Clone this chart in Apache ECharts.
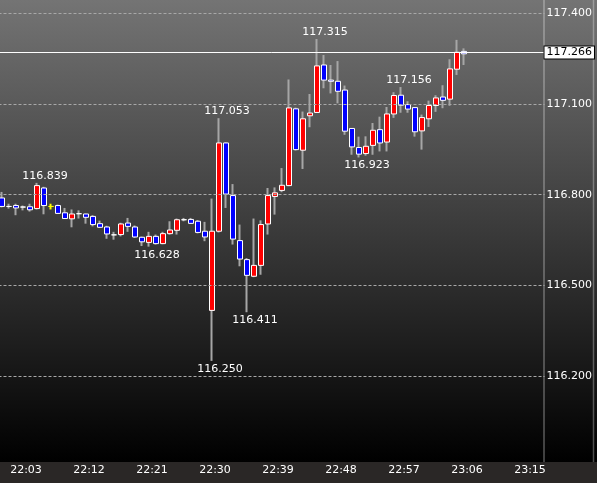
<!DOCTYPE html>
<html><head><meta charset="utf-8">
<script src="https://cdn.jsdelivr.net/npm/echarts@6/dist/echarts.min.js"></script>
<style>html,body{margin:0;padding:0;background:#000}#c{width:597px;height:483px}</style>
</head><body><div id="c"></div>
<script>
// Category labels (one per minute)
const times = ['22:00','22:01','22:02','22:03','22:04','22:05','22:06','22:07','22:08','22:09',
'22:10','22:11','22:12','22:13','22:14','22:15','22:16','22:17','22:18','22:19',
'22:20','22:21','22:22','22:23','22:24','22:25','22:26','22:27','22:28','22:29',
'22:30','22:31','22:32','22:33','22:34','22:35','22:36','22:37','22:38','22:39',
'22:40','22:41','22:42','22:43','22:44','22:45','22:46','22:47','22:48','22:49',
'22:50','22:51','22:52','22:53','22:54','22:55','22:56','22:57','22:58','22:59',
'23:00','23:01','23:02','23:03','23:04','23:05','23:06','23:07','23:08','23:09',
'23:10','23:11','23:12','23:13','23:14','23:15','23:16','23:17'];

const opens = [116.789,116.761,116.764,116.759,116.760,116.754,116.822,116.761,116.764,116.740,
116.720,116.737,116.736,116.728,116.704,116.693,116.667,116.668,116.706,116.693,
116.659,116.642,116.662,116.638,116.671,116.682,116.717,116.718,116.712,116.679,
116.417,116.679,116.971,116.797,116.648,116.585,116.530,116.566,116.703,116.794,
116.814,116.830,117.084,116.947,117.061,117.072,117.229,117.179,117.175,117.146,
117.019,116.956,116.936,116.963,117.015,116.974,117.067,117.129,117.098,117.088,
117.011,117.051,117.095,117.123,117.116,117.215,117.274];
const closes = [116.761,116.761,116.756,116.759,116.750,116.830,116.764,116.761,116.738,116.721,
116.736,116.737,116.725,116.701,116.692,116.670,116.667,116.703,116.695,116.660,
116.644,116.662,116.638,116.671,116.683,116.717,116.717,116.705,116.675,116.660,
116.679,116.971,116.802,116.653,116.587,116.533,116.566,116.701,116.797,116.806,
116.831,117.087,116.949,117.051,117.070,117.226,117.179,117.175,117.142,117.010,
116.958,116.934,116.960,117.013,116.971,117.067,117.128,117.096,117.083,117.008,
117.055,117.095,117.120,117.112,117.216,117.271,117.266];
const lows = [116.758,116.754,116.732,116.748,116.744,116.751,116.735,116.751,116.737,116.720,
116.692,116.721,116.704,116.695,116.691,116.654,116.651,116.662,116.677,116.657,
116.630,116.628,116.635,116.636,116.668,116.668,116.712,116.704,116.672,116.646,
116.250,116.675,116.756,116.635,116.563,116.411,116.527,116.535,116.668,116.734,
116.808,116.828,116.946,116.885,117.023,117.071,117.152,117.135,117.102,116.998,
116.932,116.923,116.929,116.932,116.943,116.943,117.054,117.071,117.071,116.992,
116.949,117.024,117.074,117.086,117.094,117.196,117.229];
const highs = [116.809,116.770,116.770,116.764,116.770,116.839,116.826,116.770,116.767,116.756,
116.751,116.748,116.737,116.732,116.714,116.697,116.677,116.707,116.723,116.698,
116.661,116.677,116.668,116.677,116.712,116.721,116.723,116.723,116.716,116.710,
116.787,117.053,116.973,116.835,116.701,116.590,116.721,116.715,116.822,116.824,
116.888,117.181,117.088,117.075,117.133,117.315,117.262,117.229,117.242,117.161,
117.020,116.992,116.993,117.037,117.058,117.090,117.139,117.156,117.109,117.089,
117.065,117.111,117.129,117.162,117.248,117.312,117.284];

const tickValues = [117.4, 117.1, 116.8, 116.5, 116.2];
const tickLabels = ['117.400','117.100','116.800','116.500','116.200'];
const currentPrice = 117.266;
const highMarks = [5, 31, 45, 57];
const lowMarks = [21, 30, 35, 51];
const yellowIdx = [7];

const FONT = 'DejaVu Sans';
const chart = echarts.init(document.getElementById('c'), null, {renderer: 'canvas'});

const ohlc = opens.map((o, i) => {
  const v = [o, closes[i], lows[i], highs[i]];
  return yellowIdx.includes(i) ? {value: v, itemStyle: {borderColor: '#ffff00', borderColor0: '#ffff00', borderColorDoji: '#ffff00'}} : v;
});
const bodies = opens.map((o, i) => {
  const v = [o, closes[i], Math.min(o, closes[i]), Math.max(o, closes[i])];
  return yellowIdx.includes(i) ? {value: v, itemStyle: {borderColor: '#ffff00', borderColor0: '#ffff00', borderColorDoji: '#ffff00'}} : v;
});

const markPts = [];
highMarks.forEach(i => markPts.push({coord: [times[i], highs[i]],
  label: {position: 'top', distance: 1, offset: [8, 0], formatter: highs[i].toFixed(3)}}));
lowMarks.forEach(i => markPts.push({coord: [times[i], lows[i]],
  label: {position: 'bottom', distance: 2, offset: [8, 0], formatter: lows[i].toFixed(3)}}));

const markLines = tickValues.map((v, k) => ({
  yAxis: v,
  lineStyle: {color: '#a8a8a8', type: [3, 2], width: 1},
  label: {show: true, position: 'end', formatter: tickLabels[k], color: '#fff', fontSize: 11, fontFamily: FONT, distance: 2}
}));
markLines.push({
  yAxis: currentPrice,
  lineStyle: {color: '#ffffff', type: 'solid', width: 1},
  label: {show: true, position: 'end', formatter: currentPrice.toFixed(3), color: '#000', fontSize: 11, fontFamily: FONT,
    backgroundColor: '#fff', borderColor: '#000', borderWidth: 1, padding: [1, 2, 0, 2], distance: 0}
});

const option = {
  animation: false,
  textStyle: {fontFamily: FONT},
  graphic: [
    {type: 'rect', z: -100, silent: true, shape: {x: 0, y: 0, width: 597, height: 462},
      style: {fill: new echarts.graphic.LinearGradient(0, 0, 0, 1, [
        {offset: 0, color: '#747474'}, {offset: 1, color: '#000000'}])}},
    {type: 'rect', z: -100, silent: true, shape: {x: 0, y: 462, width: 597, height: 21}, style: {fill: '#2a2726'}},
    {type: 'line', z: -50, silent: true, shape: {x1: 544, y1: 0, x2: 544, y2: 462}, style: {stroke: 'rgba(255,255,255,0.25)', lineWidth: 2}},
    {type: 'line', z: -50, silent: true, shape: {x1: 593.5, y1: 0, x2: 593.5, y2: 462}, style: {stroke: 'rgba(255,255,255,0.3)', lineWidth: 1.5}}
  ],
  grid: {left: -1.5, top: 0, width: 546, height: 462, containLabel: false, outerBoundsMode: 'none'},
  xAxis: {
    type: 'category', data: times, boundaryGap: true,
    axisLine: {show: false}, axisTick: {show: false}, splitLine: {show: false},
    axisLabel: {interval: (idx) => idx % 9 === 3, color: '#fff', fontSize: 11, fontFamily: FONT, margin: 3, padding: [0, 0, 0, 6]}
  },
  yAxis: {
    type: 'value', min: 115.9155, max: 117.444, position: 'right', scale: true,
    axisLine: {show: false}, axisTick: {show: false}, axisLabel: {show: false}, splitLine: {show: false}
  },
  series: [
    {
      type: 'candlestick', name: 'wick', silent: true, data: ohlc, barWidth: 1,
      itemStyle: {color: '#a6a6a6', color0: '#a6a6a6', borderColor: '#a6a6a6', borderColor0: '#a6a6a6', borderColorDoji: '#a6a6a6', borderWidth: 2}
    },
    {
      type: 'candlestick', name: 'body', silent: true, data: bodies, barWidth: 5,
      itemStyle: {color: '#ff0000', color0: '#0000ff', borderColor: '#ffffff', borderColor0: '#ffffff', borderColorDoji: '#ffffff', borderWidth: 1},
      markLine: {silent: true, symbol: ['none', 'none'], animation: false, data: markLines},
      markPoint: {silent: true, symbol: 'circle', symbolSize: 1, itemStyle: {color: 'transparent'}, animation: false,
        label: {show: true, color: '#fff', fontSize: 11, fontFamily: FONT}, data: markPts}
    }
  ]
};
chart.setOption(option);
</script>
</body></html>
